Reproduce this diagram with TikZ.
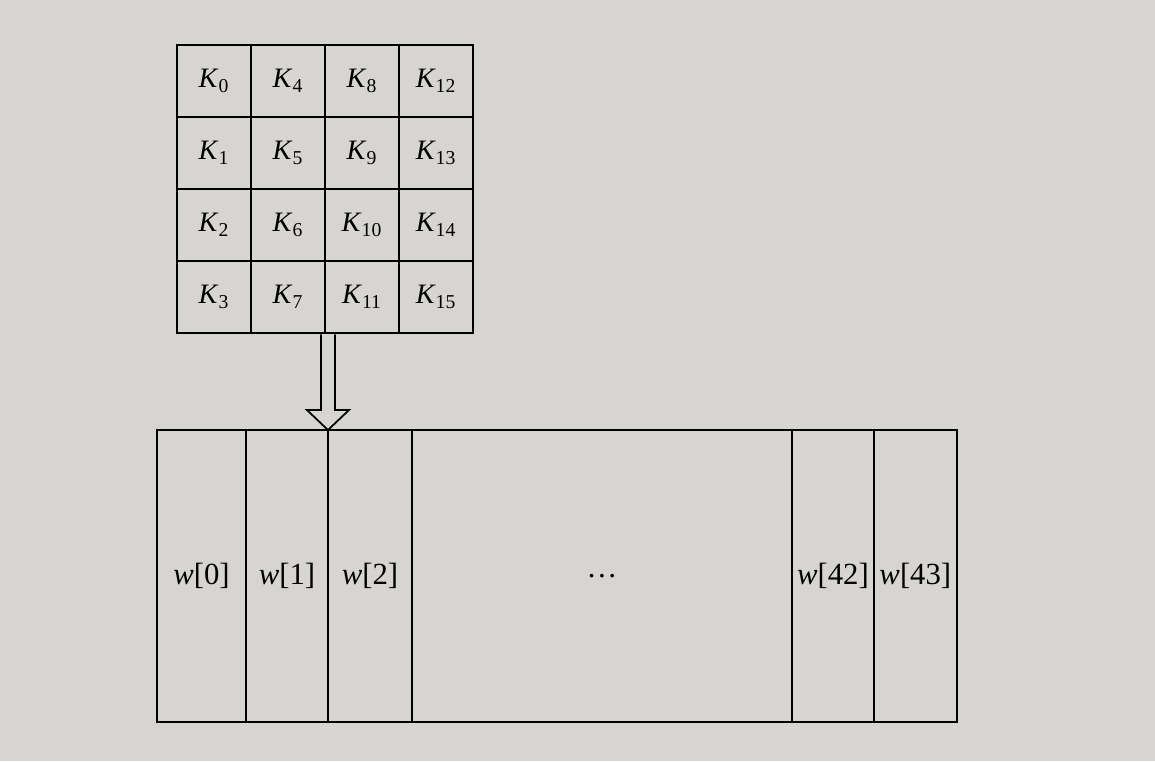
\documentclass[tikz,border=0pt]{standalone}
\usepackage{fontspec}
\setmainfont{Liberation Serif}
\usetikzlibrary{positioning,fit,calc}
\definecolor{paper}{RGB}{214,213,210}

\begin{document}
\begin{tikzpicture}[x=0.02cm,y=-0.02cm,font=\fontsize{16}{18}\selectfont]
\tikzstyle{cell}=[rectangle,
  draw=black,line width=1pt,
  minimum width=1.48cm,
  minimum height=1.44cm,
  inner sep=0pt,outer sep=0pt
]

\tikzstyle{slot}=[rectangle,
  draw=black,line width=1.1pt,
  minimum height=5.84cm,
  inner sep=0pt,outer sep=0pt,
  font=\fontsize{17.5}{20}\selectfont
]

\tikzstyle{frame}=[draw=black,line width=1.5pt,inner sep=0pt]

\fill[paper] (0,0) rectangle (1155,761);

% key matrix, filled column by column
\foreach \c in {0,...,3}
  \foreach \r in {0,...,3}{
    \pgfmathtruncatemacro{\n}{4*\c+\r}
    \node[cell] (k\n) at (214+74*\c,81+72*\r) {\textit{K}\textsubscript{\n}};
  }
\node[frame, fit=(k0)(k15)] (keys) {};

% expanded words
\node[slot,minimum width=1.78cm,anchor=north west] (w0) at (157,430) {\textit{w}[0]};
\node[slot,minimum width=1.64cm,right=0pt of w0] (w1) {\textit{w}[1]};
\node[slot,minimum width=1.68cm,right=0pt of w1] (w2) {\textit{w}[2]};
\node[slot,minimum width=7.6cm,right=0pt of w2]  (wdots) {\dots};
\node[slot,minimum width=1.64cm,right=0pt of wdots] (w42) {\textit{w}[42]};
\node[slot,minimum width=1.66cm,right=0pt of w42] (w43) {\textit{w}[43]};
\node[frame, fit=(w0)(w43)] (words) {};

% hollow arrow
\coordinate (tip) at (w2.north west);
\coordinate (tail) at (keys.south -| tip);
\draw[line width=1pt] ($(tail)+(-7,0)$) -- ($(tip)+(-7,-20)$) -- ($(tip)+(-21,-20)$)
  -- (tip) -- ($(tip)+(21,-20)$) -- ($(tip)+(7,-20)$) -- ($(tail)+(7,0)$);
\end{tikzpicture}
\end{document}
